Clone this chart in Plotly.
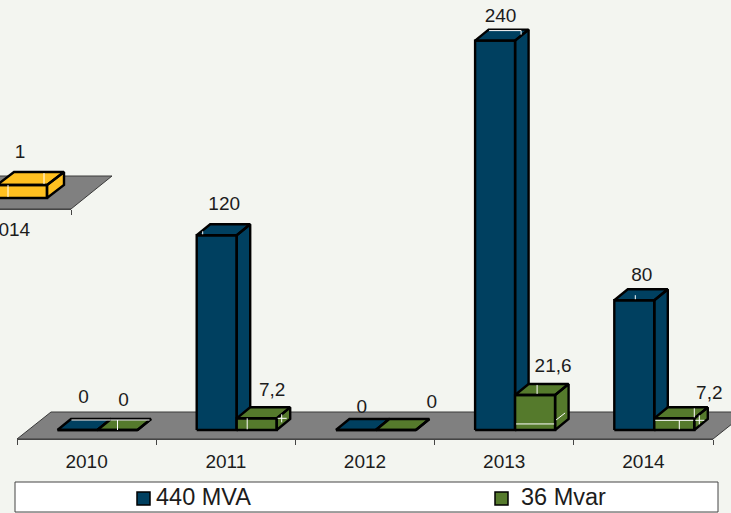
import plotly.graph_objects as go

W, H = 731, 513

# ---- data ----
years = ["2010", "2011", "2012", "2013", "2014"]
mva_440 = [0, 120, 0, 240, 80]
mvar_36 = [0, 7.2, 0, 21.6, 7.2]
series_names = ["440 MVA", "36 Mvar"]
value_labels_440 = ["0", "120", "0", "240", "80"]
value_labels_36 = ["0", "7,2", "0", "21,6", "7,2"]

inset_years = ["2014"]
inset_values = [1]
inset_labels = ["1"]

# ---- styles / layout (pixels) ----
BG = "#F3F5F0"
BLUE = "#004060"
GREEN = "#557A2C"
YELLOW = "#FFC020"
FLOOR = "#808080"
TXT = "#1c1c1c"
FONT = "Liberation Sans, Arial, sans-serif"
FS = 19

L, R, AX_Y, BASE_Y = 17, 713, 439, 430
CAT_W = (R - L) / 5
PX_PER_UNIT = 1.6225
BAR_W, DX, DY = 40, 13.5, 11
BAR_START = 40.5     # front-left of first bar within a category
FLOOR_DX, FLOOR_DY = 34, 27

# inset chart (cut off at the left)
I_TICK, I_CAT_W, I_AX_Y, I_BASE_Y = 71, 124, 209, 198
I_PX_PER_UNIT = 13
I_BAR_R, I_BAR_W, I_DX, I_DY = 47, 50, 17, 13
I_FLOOR_DX, I_FLOOR_DY = 41, 33


def cat_from_px(px):
    return (px - L) / CAT_W - 0.5


def val_from_px(py):
    return (BASE_Y - py) / PX_PER_UNIT


def icat_from_px(px):
    return (px - I_TICK) / I_CAT_W + 0.5


def ival_from_px(py):
    return (I_BASE_Y - py) / I_PX_PER_UNIT


dx_c, dy_v = DX / CAT_W, DY / PX_PER_UNIT
bw_c = BAR_W / CAT_W


def box(x0, w, v, dx, dy):
    """Outline polygons (front, side, top) of a bar, None separated."""
    xs = [x0, x0 + w, x0 + w, x0, x0, None,
          x0 + w, x0 + w + dx, x0 + w + dx, x0 + w, x0 + w, None,
          x0, x0 + dx, x0 + w + dx, x0 + w, x0, None]
    ys = [0, 0, v, v, 0, None,
          0, dy, v + dy, v, 0, None,
          v, v + dy, v + dy, v, v, None]
    return xs, ys


def bar_x0(cat, s):
    return cat - 0.5 + (BAR_START + s * BAR_W) / CAT_W


fig = go.Figure()

# floor of the main chart
floor_x = [cat_from_px(L), cat_from_px(R), cat_from_px(R + FLOOR_DX), cat_from_px(L + FLOOR_DX), cat_from_px(L)]
floor_y = [val_from_px(AX_Y), val_from_px(AX_Y), val_from_px(AX_Y - FLOOR_DY), val_from_px(AX_Y - FLOOR_DY), val_from_px(AX_Y)]
fig.add_trace(go.Scatter(x=floor_x, y=floor_y, mode="lines", fill="toself", fillcolor=FLOOR,
                         line=dict(color="#3a3a3a", width=1), hoverinfo="skip", showlegend=False,
                         xaxis="x", yaxis="y"))

# bars
for s, (vals, col) in enumerate(zip([mva_440, mvar_36], [BLUE, GREEN])):
    X, Y = [], []
    for c, v in enumerate(vals):
        xs, ys = box(bar_x0(c, s), bw_c, v, dx_c, dy_v)
        X += xs
        Y += ys
    fig.add_trace(go.Scatter(x=X, y=Y, mode="lines", fill="toself", fillcolor=col,
                             line=dict(color="#000000", width=2.4), name=series_names[s],
                             showlegend=False, xaxis="x", yaxis="y"))

# faint white gridline remnants on bars: (series, category, dx0, dy0, dx1, dy1) px from the front-top-left
glints = [
    (0, 0, 14, -10, 53, -10), (1, 0, 13, -10, 52, -10), (1, 0, 20, -10, 20, 0),
    (1, 1, 10.5, 0, 10.5, 11), (1, 1, 45, -4, 45, 4), (1, 1, 41, 0, 50, 0),
    (1, 3, 1, 29, 39, 29), (1, 3, 22, -10, 22, -1), (1, 3, 41, 25, 50, 18),
    (1, 4, 1, 2, 39, 2), (1, 4, 25, 2, 25, 11), (1, 4, 40, -10, 40, -1), (1, 4, 45, -3, 45, 6), (1, 4, 41, 2, 50, 2),
    (0, 3, 14, -10, 46, -10), (0, 3, 46, -10, 46, -6),
    (0, 1, 6, -1, 6, -4), (0, 4, 21, -1, 21, -5),
]
gx, gy = [], []
all_vals = [mva_440, mvar_36]
for s, c, a, b, d, e in glints:
    x0, v = bar_x0(c, s), all_vals[s][c]
    gx += [x0 + a / CAT_W, x0 + d / CAT_W, None]
    gy += [v - b / PX_PER_UNIT, v - e / PX_PER_UNIT, None]
fig.add_trace(go.Scatter(x=gx, y=gy, mode="lines", line=dict(color="#ffffff", width=1),
                         hoverinfo="skip", showlegend=False, xaxis="x", yaxis="y"))

# value labels
nudges = [
    [(6, -32), (7.5, -30.5), (6, -22), (5.5, -23.5), (7.5, -24)],
    [(6, -29), (15.5, -27), (36, -27), (18, -28), (35, -24)],
]
for s, (vals, labs) in enumerate(zip(all_vals, [value_labels_440, value_labels_36])):
    tx = [bar_x0(c, s) + (BAR_W / 2 + nudges[s][c][0]) / CAT_W for c in range(5)]
    ty = [vals[c] - nudges[s][c][1] / PX_PER_UNIT for c in range(5)]
    fig.add_trace(go.Scatter(x=tx, y=ty, mode="text", text=labs, textposition="middle center",
                             textfont=dict(family=FONT, size=FS, color=TXT), cliponaxis=False,
                             hoverinfo="skip", showlegend=False, xaxis="x", yaxis="y"))

# category axis of main chart (invisible carrier trace)
fig.add_trace(go.Scatter(x=years, y=[0] * 5, mode="markers", marker=dict(opacity=0),
                         hoverinfo="skip", showlegend=False, xaxis="x2", yaxis="y2"))

# inset chart
ifx = [icat_from_px(-80), icat_from_px(I_TICK), icat_from_px(I_TICK + I_FLOOR_DX), icat_from_px(-80 + I_FLOOR_DX), icat_from_px(-80)]
ify = [ival_from_px(I_AX_Y), ival_from_px(I_AX_Y), ival_from_px(I_AX_Y - I_FLOOR_DY), ival_from_px(I_AX_Y - I_FLOOR_DY), ival_from_px(I_AX_Y)]
fig.add_trace(go.Scatter(x=ifx, y=ify, mode="lines", fill="toself", fillcolor=FLOOR,
                         line=dict(color="#3a3a3a", width=1), hoverinfo="skip", showlegend=False,
                         xaxis="x3", yaxis="y3"))
ix0 = icat_from_px(I_BAR_R - I_BAR_W)
ixs, iys = box(ix0, I_BAR_W / I_CAT_W, inset_values[0], I_DX / I_CAT_W, I_DY / I_PX_PER_UNIT)
fig.add_trace(go.Scatter(x=ixs, y=iys, mode="lines", fill="toself", fillcolor=YELLOW,
                         line=dict(color="#000000", width=2.4), showlegend=False, name="inset",
                         xaxis="x3", yaxis="y3"))
i_glints = [(11, 0, 11, 12), (47, -12, 47, -1)]
igx, igy = [], []
for a, b, d, e in i_glints:
    igx += [ix0 + a / I_CAT_W, ix0 + d / I_CAT_W, None]
    igy += [inset_values[0] - b / I_PX_PER_UNIT, inset_values[0] - e / I_PX_PER_UNIT, None]
fig.add_trace(go.Scatter(x=igx, y=igy, mode="lines", line=dict(color="#ffffff", width=1),
                         hoverinfo="skip", showlegend=False, xaxis="x3", yaxis="y3"))
fig.add_trace(go.Scatter(x=[ix0 + (I_BAR_W / 2 - 2) / I_CAT_W], y=[inset_values[0] + 32 / I_PX_PER_UNIT],
                         mode="text", text=inset_labels, textposition="middle center",
                         textfont=dict(family=FONT, size=FS, color=TXT), cliponaxis=False,
                         hoverinfo="skip", showlegend=False, xaxis="x3", yaxis="y3"))
fig.add_trace(go.Scatter(x=inset_years, y=[0], mode="markers", marker=dict(opacity=0),
                         hoverinfo="skip", showlegend=False, xaxis="x4", yaxis="y4"))

# legend drawn in figure coordinates
for name, col, xm, xt in zip(series_names, [BLUE, GREEN], [143.5 / W, 501.5 / W], [156 / W, 521 / W]):
    fig.add_trace(go.Scatter(x=[xm], y=[1 - 498.5 / H], mode="markers",
                             marker=dict(symbol="square", size=13, color=col, line=dict(color="#000", width=1.5)),
                             hoverinfo="skip", showlegend=False, xaxis="x5", yaxis="y5"))
    fig.add_trace(go.Scatter(x=[xt], y=[1 - 499 / H], mode="text", text=[name],
                             textposition="middle right",
                             textfont=dict(family=FONT, size=23.5, color=TXT),
                             cliponaxis=False, hoverinfo="skip", showlegend=False, xaxis="x5", yaxis="y5"))

hidden = dict(visible=False, showgrid=False, zeroline=False, fixedrange=True)
cat_ax = dict(type="category", tickson="boundaries", ticks="outside", ticklen=5, tickwidth=1,
              tickcolor="#444", showline=True, linecolor="#444", linewidth=1, showgrid=False, zeroline=False,
              tickfont=dict(family=FONT, size=FS, color=TXT), ticklabelposition="outside", automargin=False)

fig.update_layout(
    width=W, height=H, autosize=False,
    margin=dict(l=0, r=0, t=0, b=0),
    paper_bgcolor=BG, plot_bgcolor="rgba(0,0,0,0)",
    showlegend=False,
    xaxis=dict(domain=[0, 1], range=[cat_from_px(0), cat_from_px(W)], anchor="y", **hidden),
    yaxis=dict(domain=[0, 1], range=[val_from_px(H), val_from_px(0)], anchor="x", **hidden),
    xaxis2=dict(domain=[L / W, R / W], range=[-0.5, 4.5], categoryorder="array", categoryarray=years, anchor="y2",
                ticklabelstandoff=5, **cat_ax),
    yaxis2=dict(domain=[(H - AX_Y) / H, 1], range=[0, 1], anchor="x2", **hidden),
    xaxis3=dict(domain=[0, 1], range=[icat_from_px(0), icat_from_px(W)], anchor="y3", **hidden),
    yaxis3=dict(domain=[0, 1], range=[ival_from_px(H), ival_from_px(0)], anchor="x3", **hidden),
    xaxis4=dict(domain=[0, I_TICK / W], range=[icat_from_px(0), 0.5], anchor="y4", ticklabelstandoff=3, **cat_ax),
    yaxis4=dict(domain=[(H - I_AX_Y) / H, 1], range=[0, 1], anchor="x4", **hidden),
    xaxis5=dict(domain=[0, 1], range=[0, 1], anchor="y5", **hidden),
    yaxis5=dict(domain=[0, 1], range=[0, 1], anchor="x5", **hidden),
    shapes=[dict(type="rect", xref="paper", yref="paper", layer="below",
                 x0=15 / W, x1=718 / W, y0=1 - 512 / H, y1=1 - 482 / H,
                 fillcolor="#ffffff", line=dict(color="#444", width=1))],
)

fig.write_html("out.html", config={"displayModeBar": False},
               post_script="document.body.style.margin='0';document.body.style.overflow='hidden';")
